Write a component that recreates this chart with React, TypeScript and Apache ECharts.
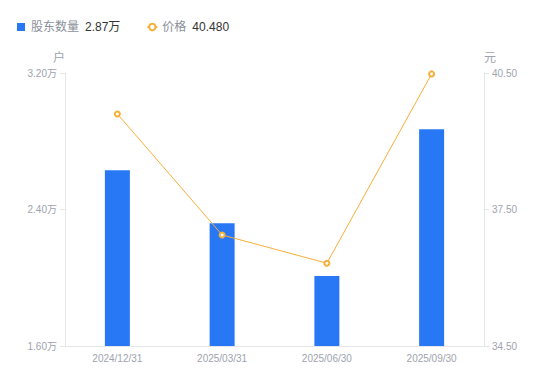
import React, { useEffect, useRef } from "react";
import * as echarts from "echarts";

const categories = ["2024/12/31", "2025/03/31", "2025/06/30", "2025/09/30"];
const holders = [2.63, 2.32, 2.01, 2.87]; // 万户
const prices = [39.6, 36.94, 36.32, 40.48]; // 元
const leftTicks = [1.6, 2.4, 3.2];
const rightTicks = [34.5, 37.5, 40.5];

const FONT = "'Liberation Sans', 'Noto Sans CJK SC', sans-serif";
const BLUE = "#2878F6";
const ORANGE = "#F9AE38";
const GREY = "#9EA3AE";
const LINE = "#E4E6EA";

export default function App() {
  const ref = useRef<HTMLDivElement>(null);
  useEffect(() => {
    if (!ref.current) return;
    const chart = echarts.init(ref.current, undefined, { renderer: "svg" });
    const last = (a: number[]) => a[a.length - 1];
    chart.setOption({
      animation: false,
      textStyle: { fontFamily: FONT },
      legend: {
        top: 16,
        left: 12,
        itemWidth: 10,
        itemHeight: 8,
        itemGap: 26,
        data: [
          { name: "股东数量", icon: "path://M0,0h8v8h-8z" },
          { name: "价格" },
        ],
        formatter: (name: string) =>
          name === "股东数量"
            ? `{n|${name}}{v|${last(holders).toFixed(2)}万}`
            : `{n|${name}}{v|${last(prices).toFixed(3)}}`,
        textStyle: {
          rich: {
            n: { fontSize: 12, color: "#8A8F99", fontFamily: FONT, padding: [0, 6, 0, 0] },
            v: { fontSize: 12, color: "#333333", fontFamily: FONT },
          },
        },
      },
      grid: { left: 65, right: 66, top: 73, bottom: 35 },
      xAxis: {
        type: "category",
        data: categories,
        axisLine: { show: true, lineStyle: { color: LINE } },
        axisTick: { show: false },
        axisLabel: { color: GREY, fontSize: 10, margin: 7, fontFamily: FONT },
      },
      yAxis: [
        {
          type: "value",
          name: "户",
          nameLocation: "end",
          nameGap: 9,
          nameTextStyle: { color: GREY, fontSize: 12, align: "right", fontFamily: FONT },
          min: 1.6,
          max: 3.2,
          position: "left",
          axisLine: { show: true, lineStyle: { color: LINE } },
          axisTick: { show: true, length: 5, lineStyle: { color: LINE }, customValues: leftTicks },
          splitLine: { show: false },
          axisLabel: {
            color: GREY,
            fontSize: 10,
            margin: 8,
            fontFamily: FONT,
            customValues: leftTicks,
            formatter: (v: number) => v.toFixed(2) + "万",
          },
        },
        {
          type: "value",
          name: "元",
          nameLocation: "end",
          nameGap: 9,
          nameTextStyle: { color: GREY, fontSize: 12, align: "left", fontFamily: FONT },
          min: 34.5,
          max: 40.5,
          position: "right",
          axisLine: { show: true, lineStyle: { color: LINE } },
          axisTick: { show: true, length: 5, lineStyle: { color: LINE }, customValues: rightTicks },
          splitLine: { show: false },
          axisLabel: {
            color: GREY,
            fontSize: 10,
            margin: 8,
            fontFamily: FONT,
            customValues: rightTicks,
            formatter: (v: number) => v.toFixed(2),
          },
        },
      ],
      series: [
        {
          name: "股东数量",
          type: "bar",
          yAxisIndex: 0,
          data: holders,
          barWidth: 25,
          itemStyle: { color: BLUE },
        },
        {
          name: "价格",
          type: "line",
          yAxisIndex: 1,
          data: prices,
          symbol: "emptyCircle",
          symbolSize: 5,
          lineStyle: { color: ORANGE, width: 1 },
          itemStyle: { color: ORANGE, borderWidth: 1.5 },
        },
      ],
    });
    return () => chart.dispose();
  }, []);
  return <div ref={ref} style={{ width: 550, height: 381, margin: -8 }} />;
}
